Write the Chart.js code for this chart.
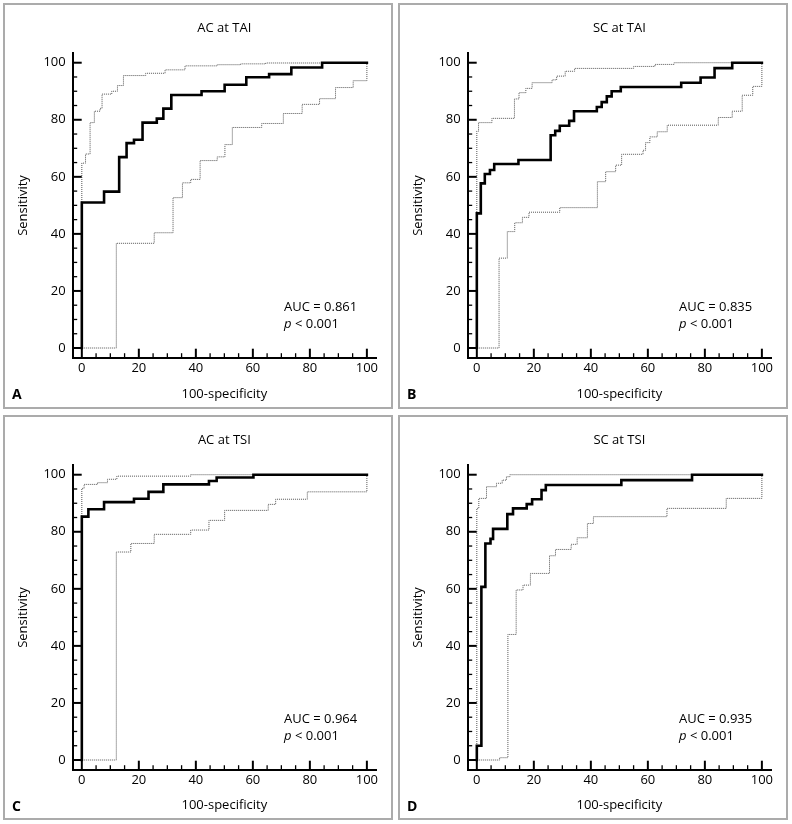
<!DOCTYPE html>
<html>
<head>
<meta charset="utf-8">
<script src="https://cdn.jsdelivr.net/npm/chart.js@4.4.1/dist/chart.umd.min.js"></script>
<style>
  body { margin: 0; background: #fff; width: 792px; height: 824px; position: relative; font-family: "Open Sans", sans-serif; color: #000; }
  .panel { position: absolute; width: 390px; box-sizing: border-box; border: 2px solid #ababab; background: #fff; }
  .panel canvas { position: absolute; left: 0; top: 0; }
  .auc { position: absolute; left: 279px; top: 293px; font-size: 13px; line-height: 16.6px; white-space: nowrap; }
  .letter { position: absolute; left: 7px; top: 380px; font-size: 14px; font-weight: bold; line-height: 18px; }
</style>
</head>
<body>
<div class="panel" id="panelA" style="left:3px;top:3px;height:406px"><canvas id="chartA" width="386" height="402"></canvas></div>
<div class="panel" id="panelB" style="left:398px;top:3px;height:406px"><canvas id="chartB" width="386" height="402"></canvas></div>
<div class="panel" id="panelC" style="left:3px;top:415px;height:405px"><canvas id="chartC" width="386" height="401"></canvas></div>
<div class="panel" id="panelD" style="left:398px;top:415px;height:405px"><canvas id="chartD" width="386" height="401"></canvas></div>

<script>
// Axis ticks
const tickValues = [0, 5, 10, 15, 20, 25, 30, 35, 40, 45, 50, 55, 60, 65, 70, 75, 80, 85, 90, 95, 100];

// Panel titles / labels
const panelTitles = ['AC at TAI', 'SC at TAI', 'AC at TSI', 'SC at TSI'];
const panelLetters = ['A', 'B', 'C', 'D'];
const aucValues = ['0.861', '0.835', '0.964', '0.935'];

// A: AC at TAI (step corners: 100-specificity, sensitivity)
const acTaiX = [0, 0, 7.8, 13.1, 15.7, 18.3, 21.3, 26.3, 28.6, 31.4, 42, 50.1, 57.7, 65.7, 73.5, 84.3, 100];
const acTaiY = [0, 51, 54.8, 66.9, 71.8, 73, 79, 80.4, 83.9, 88.7, 90, 92.3, 94.9, 96, 98.3, 100, 100];
const acTaiUpX = [0, 0, 1.3, 2.9, 4.4, 6.4, 7.1, 10.5, 12.5, 14.6, 22.4, 29.2, 36.2, 47.5, 55.7, 64.5, 84.3, 100];
const acTaiUpY = [0, 64.8, 68, 79, 83, 84, 89, 90, 92, 95.5, 96.3, 97.5, 98.9, 99.3, 99.6, 99.9, 100, 100];
const acTaiLoX = [0, 12.1, 25.4, 32, 35.3, 38.2, 41.5, 47.5, 50.2, 52.8, 63.1, 70.7, 77.3, 83.4, 89, 95.2, 100];
const acTaiLoY = [0, 36.7, 40.4, 52.7, 57.9, 59.1, 65.7, 67, 71.3, 77.3, 78.7, 82.2, 85.4, 87.4, 91.3, 93.7, 100];

// B: SC at TAI
const scTaiX = [0, 0, 1.4, 2.8, 4.6, 6.1, 14.6, 25.9, 27.5, 29.1, 32.4, 34.1, 42.1, 43.8, 45.6, 47.3, 50.5, 71.7, 78.5, 83.4, 89.6, 100];
const scTaiY = [0, 47.2, 57.7, 61, 62.4, 64.5, 65.9, 74.6, 76.1, 77.9, 79.6, 83, 84.5, 86.2, 88.2, 90, 91.5, 93, 94.8, 98.1, 100, 100];
const scTaiUpX = [0, 0, 0.6, 5.3, 13.2, 14.8, 17.2, 19.4, 26.4, 28, 31, 34.3, 55, 62.5, 69.2, 100];
const scTaiUpY = [0, 76, 79, 80.5, 87.3, 89.5, 91, 93, 94, 95.3, 97, 98, 98.7, 99.4, 100, 100];
const scTaiLoX = [0, 7.8, 10.7, 13.3, 16, 18.3, 29.1, 42.3, 45.2, 48.7, 50.8, 58.3, 59.2, 60.7, 63.3, 66.8, 84.7, 89.6, 93.1, 96.8, 100];
const scTaiLoY = [0, 31.5, 40.8, 43.9, 45.8, 47.6, 49.2, 58.3, 61.8, 64.1, 67.9, 69.3, 72, 74, 75.8, 78.1, 80.8, 83, 88.6, 91.7, 100];

// C: AC at TSI
const acTsiX = [0, 0, 2.3, 7.8, 18.3, 23.4, 28.6, 44.6, 47.3, 60.2, 100];
const acTsiY = [0, 85.3, 87.9, 90.4, 91.6, 94, 96.6, 97.8, 99, 100, 100];
const acTsiUpX = [0, 0, 0.8, 5.5, 9, 12.3, 38.2, 100];
const acTsiUpY = [0, 95.2, 96.6, 97.2, 98.4, 99.5, 100, 100];
const acTsiLoX = [0, 12.1, 17.2, 25.4, 38.2, 44.6, 50.1, 65.4, 68, 79.1, 100];
const acTsiLoY = [0, 72.9, 75.9, 79.1, 80.6, 84, 87.5, 89.6, 91.4, 94, 100];

// D: SC at TSI
const scTsiX = [0, 0, 1.6, 3, 4.8, 5.7, 10.7, 12.7, 17.5, 19.4, 22.7, 24.2, 50.7, 75.5, 100];
const scTsiY = [0, 5, 60.7, 75.9, 77.5, 81, 86.2, 88.2, 89.7, 91.4, 94.6, 96.4, 98.1, 100, 100];
const scTsiUpX = [0, 0, 0.7, 3.4, 6.9, 8.9, 10.4, 11.6, 100];
const scTsiUpY = [0, 88.2, 91.7, 95.8, 97, 98.1, 99.3, 100, 100];
const scTsiLoX = [0, 8, 10.9, 13.8, 16.2, 18.8, 25.5, 27.6, 33.1, 35.2, 38.8, 40.9, 66.7, 87.5, 100];
const scTsiLoY = [0, 0.8, 44, 59.6, 61.3, 65.4, 71.6, 73.8, 75.6, 77.9, 82.9, 85.3, 88.2, 91.7, 100];

Chart.defaults.font.family = "'Open Sans', sans-serif";
Chart.defaults.font.size = 13;
Chart.defaults.color = '#000';

// turn ROC step corners into a path (horizontal, then vertical)
function stepPoints(xs, ys) {
    const pts = [{ x: xs[0], y: ys[0] }];
    for (let i = 1; i < xs.length; i++) {
        pts.push({ x: xs[i], y: ys[i - 1] });
        pts.push({ x: xs[i], y: ys[i] });
    }
    return pts;
}

// tick marks pointing into the plot, like the original figure
const innerTicks = {
    id: 'innerTicks',
    afterDraw(chart) {
        const { ctx } = chart;
        const xs = chart.scales.x, ys = chart.scales.y;
        ctx.save();
        ctx.strokeStyle = '#000';
        tickValues.forEach(v => {
            const major = v % 20 === 0;
            const len = major ? 9 : 4.5;
            ctx.lineWidth = major ? 2 : 1.3;
            const px = xs.getPixelForValue(v);
            ctx.beginPath();
            ctx.moveTo(px, xs.top);
            ctx.lineTo(px, xs.top - len);
            ctx.stroke();
            const py = ys.getPixelForValue(v);
            ctx.beginPath();
            ctx.moveTo(ys.right, py);
            ctx.lineTo(ys.right + len, py);
            ctx.stroke();
        });
        ctx.restore();
    }
};

function makeChart(canvasId, panelId, idx, main, upper, lower) {
    const canvas = document.getElementById(canvasId);
    const h = canvas.height;

    const panel = document.getElementById(panelId);
    const auc = document.createElement('div');
    auc.className = 'auc';
    auc.innerHTML = 'AUC = ' + aucValues[idx] + '<br><i>p</i> &lt; 0.001';
    panel.appendChild(auc);
    const letter = document.createElement('div');
    letter.className = 'letter';
    letter.textContent = panelLetters[idx];
    panel.appendChild(letter);

    const ciStyle = {
        borderColor: '#555',
        borderWidth: 1,
        borderDash: [1, 1],
        pointRadius: 0,
        tension: 0,
        fill: false
    };

    return new Chart(canvas.getContext('2d'), {
        type: 'line',
        data: {
            datasets: [
                { data: stepPoints(main[0], main[1]), borderColor: '#000', borderWidth: 2.6, pointRadius: 0, tension: 0, fill: false, borderJoinStyle: 'miter', borderCapStyle: 'square' },
                Object.assign({ data: stepPoints(upper[0], upper[1]) }, ciStyle),
                Object.assign({ data: stepPoints(lower[0], lower[1]) }, ciStyle)
            ]
        },
        options: {
            responsive: false,
            animation: false,
            devicePixelRatio: 1,
            layout: { padding: { left: 0, right: 15, top: 0, bottom: 0 } },
            plugins: {
                legend: { display: false },
                tooltip: { enabled: false },
                title: {
                    display: true,
                    text: panelTitles[idx],
                    fullSize: false,
                    color: '#000',
                    font: { size: 13, weight: 'normal' },
                    padding: { top: 15.2, bottom: 17.5 }
                }
            },
            scales: {
                x: {
                    type: 'linear',
                    min: -3.2,
                    max: 103.2,
                    afterBuildTicks: s => { s.ticks = tickValues.map(v => ({ value: v })); },
                    afterFit: s => { s.height = h - 352.7; },
                    grid: { display: false, drawTicks: false, tickLength: 0 },
                    border: { display: true, color: '#000', width: 2 },
                    ticks: {
                        autoSkip: false,
                        maxRotation: 0,
                        padding: 3,
                        color: '#000',
                        callback: v => (v % 20 === 0 ? v : '')
                    },
                    title: { display: true, text: '100-specificity', color: '#000', padding: { top: 0, bottom: 5 } }
                },
                y: {
                    type: 'linear',
                    min: -3.4,
                    max: 103.3,
                    afterBuildTicks: s => { s.ticks = tickValues.map(v => ({ value: v })); },
                    afterFit: s => { s.width = 67.7; },
                    grid: { display: false, drawTicks: false, tickLength: 0 },
                    border: { display: true, color: '#000', width: 2 },
                    ticks: {
                        autoSkip: false,
                        padding: 7,
                        color: '#000',
                        callback: v => (v % 20 === 0 ? v : '')
                    },
                    title: { display: true, text: 'Sensitivity', color: '#000', padding: { top: 10, bottom: 0 } }
                }
            }
        },
        plugins: [innerTicks]
    });
}

makeChart('chartA', 'panelA', 0, [acTaiX, acTaiY], [acTaiUpX, acTaiUpY], [acTaiLoX, acTaiLoY]);
makeChart('chartB', 'panelB', 1, [scTaiX, scTaiY], [scTaiUpX, scTaiUpY], [scTaiLoX, scTaiLoY]);
makeChart('chartC', 'panelC', 2, [acTsiX, acTsiY], [acTsiUpX, acTsiUpY], [acTsiLoX, acTsiLoY]);
makeChart('chartD', 'panelD', 3, [scTsiX, scTsiY], [scTsiUpX, scTsiUpY], [scTsiLoX, scTsiLoY]);
</script>
</body>
</html>
